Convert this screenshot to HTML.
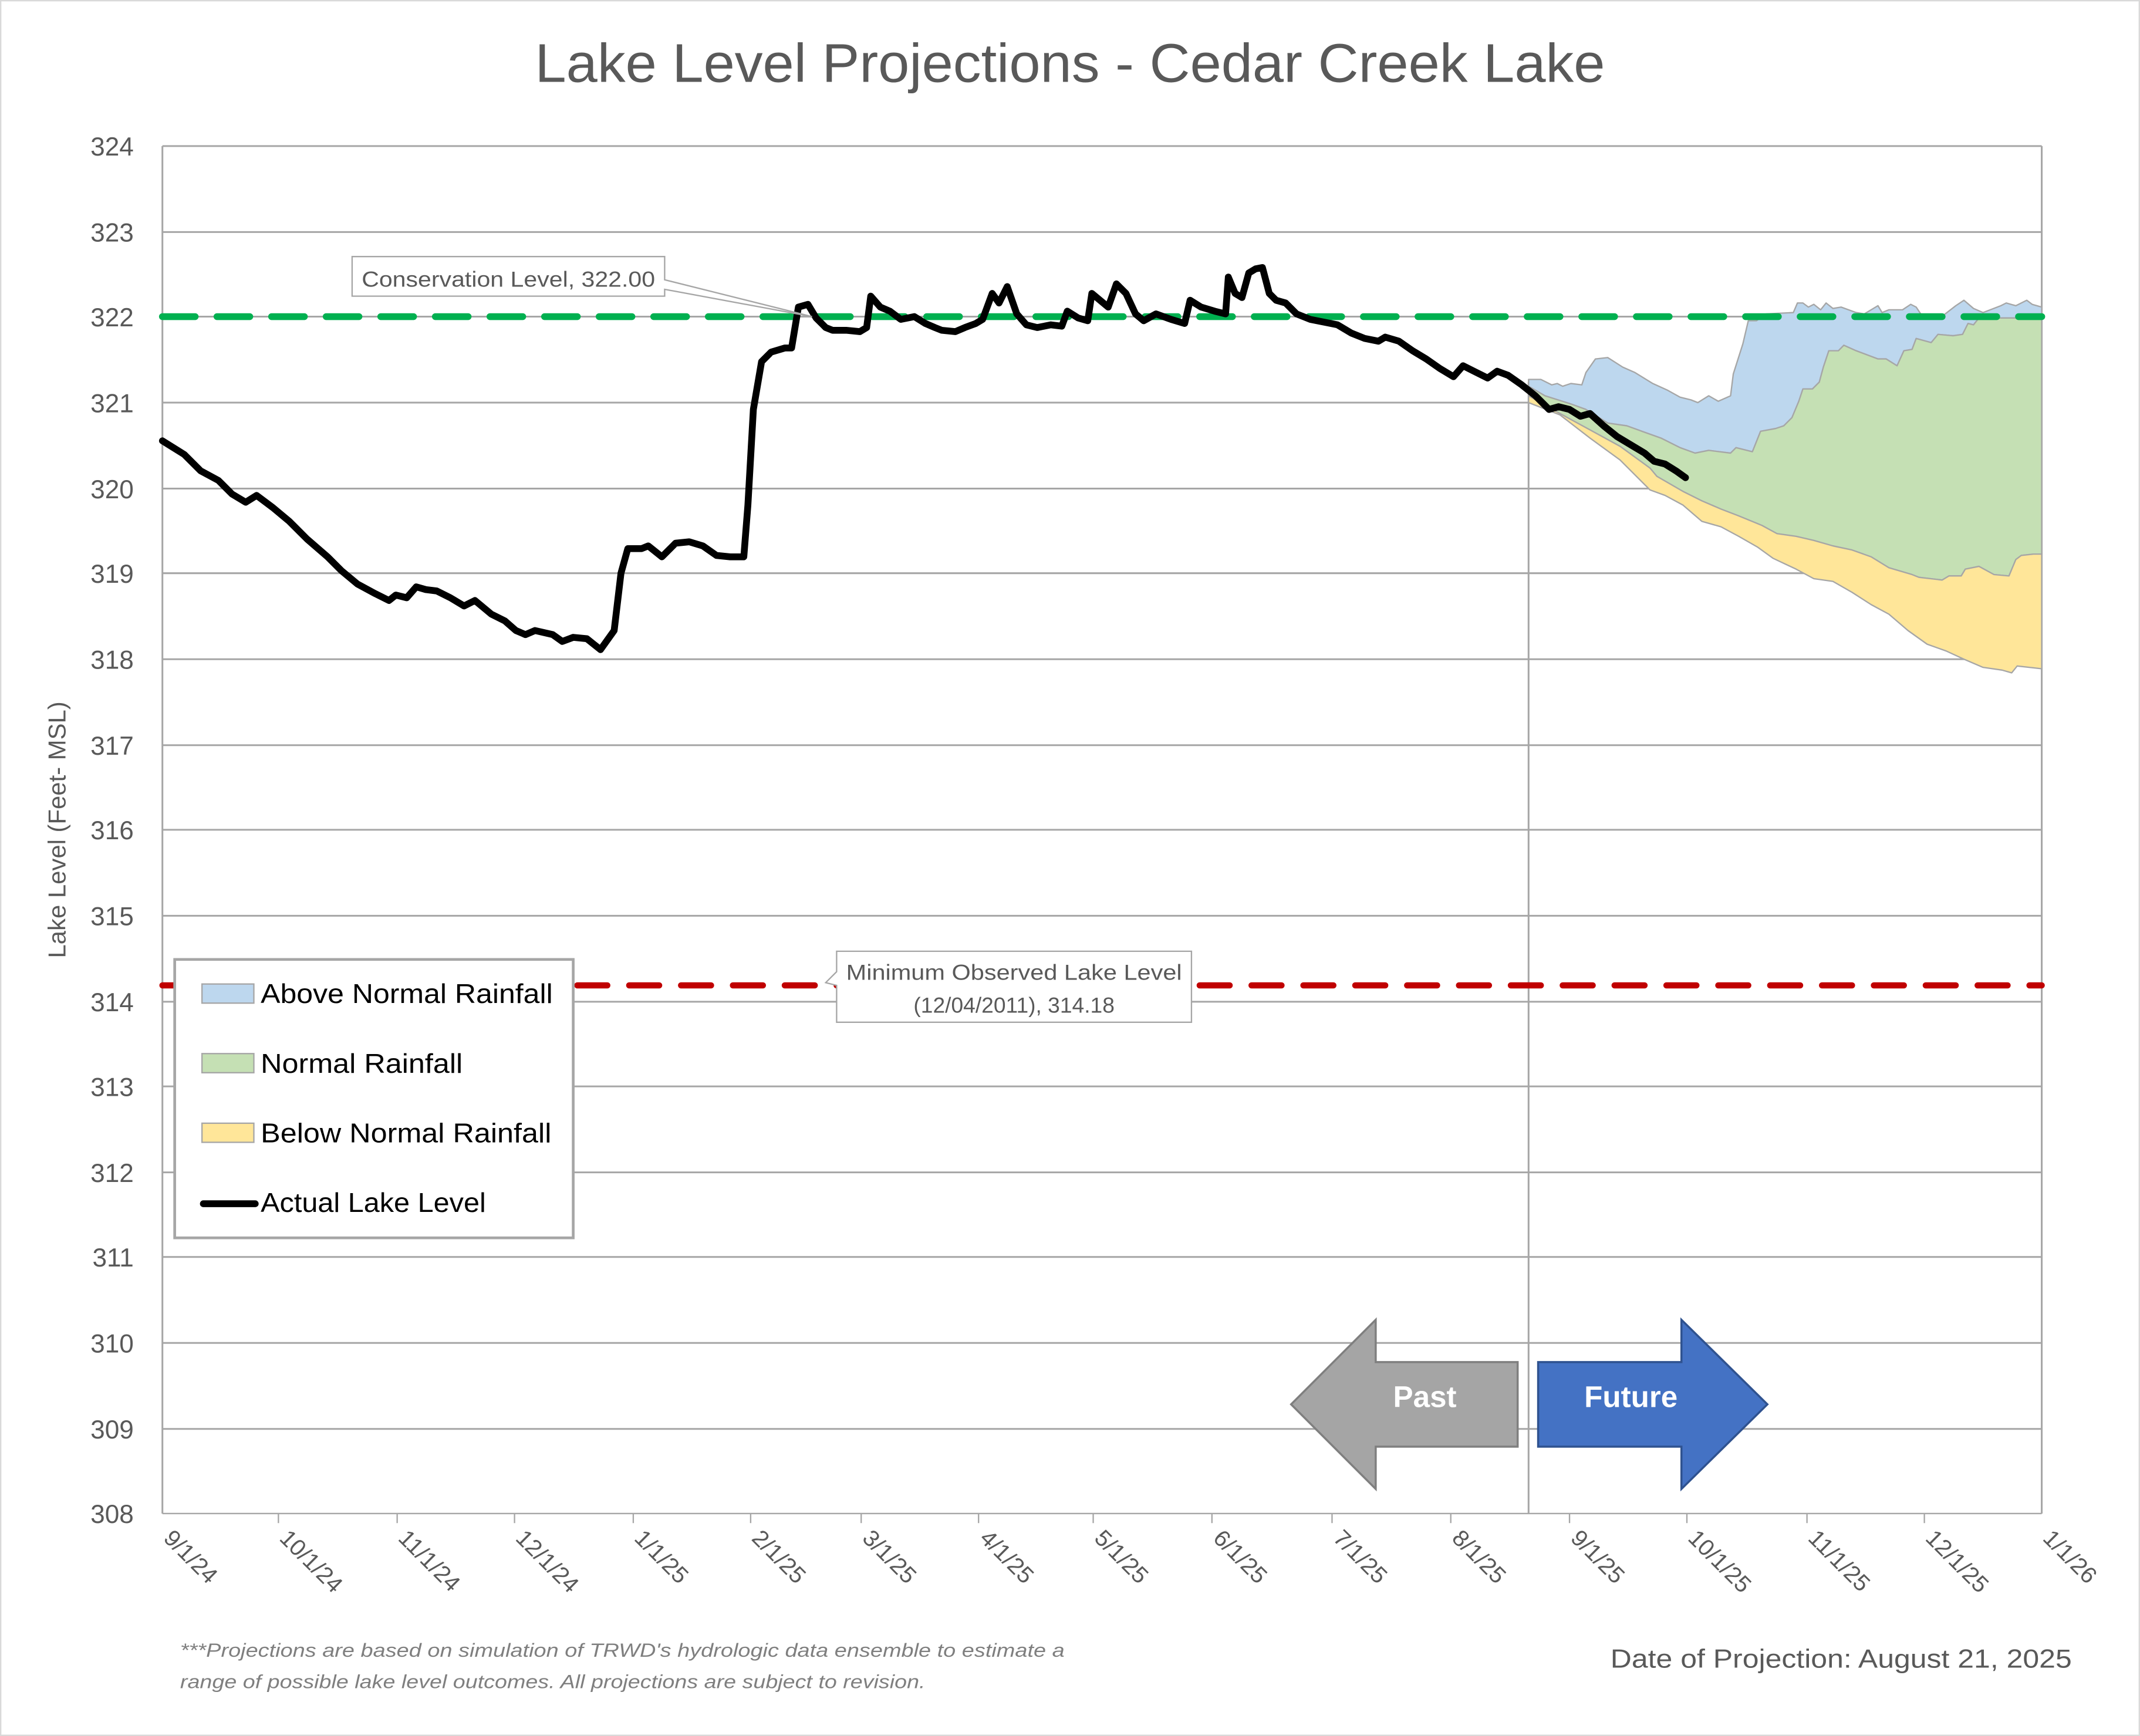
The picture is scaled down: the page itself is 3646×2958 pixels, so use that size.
<!DOCTYPE html>
<html><head><meta charset="utf-8"><style>html,body{margin:0;padding:0;background:#fff}svg{display:block}</style></head>
<body>
<svg width="3646" height="2958" viewBox="0 0 1568 1272" preserveAspectRatio="none" xmlns="http://www.w3.org/2000/svg" font-family="Liberation Sans, sans-serif">
<rect x="0.5" y="0.5" width="1567" height="1271" fill="#fff" stroke="#d9d9d9"/>
<text x="784" y="60" font-size="40" fill="#595959" text-anchor="middle" textLength="784" lengthAdjust="spacingAndGlyphs">Lake Level Projections - Cedar Creek Lake</text>
<g stroke="#a6a6a6" stroke-width="1.3">
<line x1="119" y1="107" x2="1496" y2="107"/><line x1="119" y1="170" x2="1496" y2="170"/><line x1="119" y1="232" x2="1496" y2="232"/><line x1="119" y1="295" x2="1496" y2="295"/><line x1="119" y1="358" x2="1496" y2="358"/><line x1="119" y1="420" x2="1496" y2="420"/><line x1="119" y1="483" x2="1496" y2="483"/><line x1="119" y1="546" x2="1496" y2="546"/><line x1="119" y1="608" x2="1496" y2="608"/><line x1="119" y1="671" x2="1496" y2="671"/><line x1="119" y1="734" x2="1496" y2="734"/><line x1="119" y1="796" x2="1496" y2="796"/><line x1="119" y1="859" x2="1496" y2="859"/><line x1="119" y1="921" x2="1496" y2="921"/><line x1="119" y1="984" x2="1496" y2="984"/><line x1="119" y1="1047" x2="1496" y2="1047"/>
<line x1="119" y1="107" x2="119" y2="1109"/><line x1="1496" y1="107" x2="1496" y2="1109"/>
<line x1="1120" y1="280" x2="1120" y2="1109"/>
</g>
<g stroke="#a6a6a6" stroke-width="1" stroke-linejoin="round">
<polygon fill="#bdd7ee" points="1120,278 1129,278 1137,282 1141,281 1145,283 1151,281 1159,282 1162,273 1169,263 1178,262 1189,269 1198,273 1211,281 1222,286 1231,291 1239,293 1244,295 1252,290 1259,294 1268,290 1270,274 1277,252 1281,235 1287,235 1294,230 1314,229 1317,222 1321,222 1325,225 1329,223 1334,227 1338,222 1343,226 1349,225 1360,229 1366,230 1376,224 1379,229 1384,227 1394,227 1400,223 1404,225 1408,231 1424,231 1433,224 1439,220 1446,226 1453,229 1466,224 1470,222 1477,224 1485,220 1489,223 1496,225 1496,233 1450,233 1446,238 1442,237 1438,245 1431,246 1420,245 1415,251 1404,248 1401,256 1395,257 1390,268 1382,263 1376,263 1360,257 1351,253 1347,257 1340,257 1336,269 1333,280 1328,285 1321,285 1318,294 1313,306 1307,312 1301,314 1290,316 1284,331 1272,328 1268,332 1252,330 1242,332 1231,328 1217,321 1203,316 1192,312 1178,310 1162,300 1151,296 1132,290 1120,283"/>
<polygon fill="#c5e0b4" points="1120,283 1132,290 1151,296 1162,300 1178,310 1192,312 1203,316 1217,321 1231,328 1242,332 1252,330 1268,332 1272,328 1284,331 1290,316 1301,314 1307,312 1313,306 1318,294 1321,285 1328,285 1333,280 1336,269 1340,257 1347,257 1351,253 1360,257 1376,263 1382,263 1390,268 1395,257 1401,256 1404,248 1415,251 1420,245 1431,246 1438,245 1442,237 1446,238 1450,233 1496,233 1496,406 1490,406 1481,407 1477,410 1472,422 1461,421 1450,415 1440,417 1437,422 1428,422 1423,425 1406,423 1401,421 1384,416 1371,408 1357,403 1343,400 1329,396 1316,393 1302,391 1291,385 1274,378 1261,373 1247,367 1233,360 1214,349 1209,343 1187,327 1165,315 1143,303 1120,290"/>
<polygon fill="#ffe699" points="1120,290 1143,303 1165,315 1187,327 1209,343 1214,349 1233,360 1247,367 1261,373 1274,378 1291,385 1302,391 1316,393 1329,396 1343,400 1357,403 1371,408 1384,416 1401,421 1406,423 1423,425 1428,422 1437,422 1440,417 1450,415 1461,421 1472,422 1477,410 1481,407 1490,406 1496,406 1496,490 1478,488 1474,493 1467,491 1453,489 1439,483 1426,477 1412,472 1398,462 1384,450 1371,443 1357,434 1343,426 1329,424 1316,417 1299,409 1288,401 1274,393 1261,386 1247,382 1233,370 1220,363 1209,359 1187,337 1165,321 1143,304 1120,295"/>
</g>
<line x1="119" y1="232" x2="1496" y2="232" stroke="#00b050" stroke-width="5" stroke-dasharray="24,16" stroke-linecap="round"/>
<line x1="119" y1="722" x2="1496" y2="722" stroke="#c00000" stroke-width="4.5" stroke-dasharray="22,16" stroke-linecap="round"/>
<polyline fill="none" stroke="#000" stroke-width="5" stroke-linejoin="round" stroke-linecap="round" points="119,323 135,333 147,345 160,352 170,362 180,368 188,363 200,372 212,382 225,395 240,408 250,418 262,428 275,435 285,440 290,436 298,438 305,430 312,432 320,433 330,438 340,444 348,440 360,450 370,455 378,462 385,465 392,462 405,465 412,470 420,467 430,468 440,476 450,462 455,420 460,402 470,402 475,400 485,408 495,398 505,397 515,400 525,407 535,408 545,408 548,370 552,300 558,265 565,258 575,255 580,255 585,225 592,223 598,233 605,240 610,242 620,242 630,243 635,240 638,217 645,225 652,228 660,234 670,232 678,237 685,240 690,242 700,243 707,240 715,237 720,234 727,215 732,222 738,210 745,230 752,238 760,240 770,238 778,239 782,228 790,233 797,235 800,215 806,220 812,225 818,208 825,215 832,230 838,235 847,230 858,234 868,237 872,220 880,225 890,228 898,230 900,203 905,215 910,218 915,200 920,197 925,196 930,215 935,220 942,222 950,230 960,234 970,236 980,238 990,244 1000,248 1010,250 1015,247 1025,250 1035,257 1045,263 1055,270 1065,276 1072,268 1080,272 1090,277 1097,272 1105,275 1115,282 1125,290 1135,300 1142,298 1150,300 1158,305 1165,303 1175,312 1185,320 1195,326 1205,332 1212,338 1220,340 1228,345 1235,350"/>
<g font-size="19" fill="#595959" text-anchor="end">
<text x="98" y="114">324</text><text x="98" y="177">323</text><text x="98" y="239">322</text><text x="98" y="302">321</text><text x="98" y="365">320</text><text x="98" y="427">319</text><text x="98" y="490">318</text><text x="98" y="553">317</text><text x="98" y="615">316</text><text x="98" y="678">315</text><text x="98" y="741">314</text><text x="98" y="803">313</text><text x="98" y="866">312</text><text x="98" y="928">311</text><text x="98" y="991">310</text><text x="98" y="1054">309</text><text x="98" y="1116">308</text>
</g>
<text transform="translate(48,608) rotate(-90)" font-size="18" fill="#595959" text-anchor="middle">Lake Level (Feet- MSL)</text>
<g font-size="17" fill="#595959">
<text transform="translate(119,1128) rotate(45)">9/1/24</text><text transform="translate(204,1128) rotate(45)">10/1/24</text><text transform="translate(291,1128) rotate(45)">11/1/24</text><text transform="translate(377,1128) rotate(45)">12/1/24</text><text transform="translate(464,1128) rotate(45)">1/1/25</text><text transform="translate(550,1128) rotate(45)">2/1/25</text><text transform="translate(631,1128) rotate(45)">3/1/25</text><text transform="translate(717,1128) rotate(45)">4/1/25</text><text transform="translate(801,1128) rotate(45)">5/1/25</text><text transform="translate(888,1128) rotate(45)">6/1/25</text><text transform="translate(976,1128) rotate(45)">7/1/25</text><text transform="translate(1063,1128) rotate(45)">8/1/25</text><text transform="translate(1150,1128) rotate(45)">9/1/25</text><text transform="translate(1236,1128) rotate(45)">10/1/25</text><text transform="translate(1324,1128) rotate(45)">11/1/25</text><text transform="translate(1410,1128) rotate(45)">12/1/25</text><text transform="translate(1496,1128) rotate(45)">1/1/26</text>
</g>
<g stroke="#a6a6a6" stroke-width="1">
<line x1="204" y1="1109" x2="204" y2="1116"/><line x1="291" y1="1109" x2="291" y2="1116"/><line x1="377" y1="1109" x2="377" y2="1116"/><line x1="464" y1="1109" x2="464" y2="1116"/><line x1="550" y1="1109" x2="550" y2="1116"/><line x1="631" y1="1109" x2="631" y2="1116"/><line x1="717" y1="1109" x2="717" y2="1116"/><line x1="801" y1="1109" x2="801" y2="1116"/><line x1="888" y1="1109" x2="888" y2="1116"/><line x1="976" y1="1109" x2="976" y2="1116"/><line x1="1063" y1="1109" x2="1063" y2="1116"/><line x1="1150" y1="1109" x2="1150" y2="1116"/><line x1="1236" y1="1109" x2="1236" y2="1116"/><line x1="1324" y1="1109" x2="1324" y2="1116"/><line x1="1410" y1="1109" x2="1410" y2="1116"/>
<line x1="119" y1="1109" x2="1496" y2="1109"/>
</g>
<path d="M258,188 H487 V205 L595,232 L487,212 V217 H258 Z" fill="#fff" stroke="#a6a6a6"/>
<text x="265" y="210" font-size="16" fill="#595959" textLength="215" lengthAdjust="spacingAndGlyphs">Conservation Level, 322.00</text>
<path d="M613,697 H873 V749 H613 V722 L605,720 L613,712 Z" fill="#fff" stroke="#a6a6a6"/>
<text x="743" y="718" font-size="16" fill="#595959" text-anchor="middle" textLength="246" lengthAdjust="spacingAndGlyphs">Minimum Observed Lake Level</text>
<text x="743" y="742" font-size="16" fill="#595959" text-anchor="middle">(12/04/2011), 314.18</text>
<rect x="128" y="703" width="292" height="204" fill="#fff" stroke="#a6a6a6" stroke-width="2"/>
<rect x="148" y="721" width="38" height="14" fill="#bdd7ee" stroke="#a6a6a6"/>
<rect x="148" y="772" width="38" height="14" fill="#c5e0b4" stroke="#a6a6a6"/>
<rect x="148" y="823" width="38" height="14" fill="#ffe699" stroke="#a6a6a6"/>
<line x1="149" y1="882" x2="187" y2="882" stroke="#000" stroke-width="5" stroke-linecap="round"/>
<g font-size="20" fill="#000">
<text x="191" y="735" textLength="214" lengthAdjust="spacingAndGlyphs">Above Normal Rainfall</text><text x="191" y="786" textLength="148" lengthAdjust="spacingAndGlyphs">Normal Rainfall</text><text x="191" y="837" textLength="213" lengthAdjust="spacingAndGlyphs">Below Normal Rainfall</text><text x="191" y="888" textLength="165" lengthAdjust="spacingAndGlyphs">Actual Lake Level</text>
</g>
<polygon points="946,1029 1008,967 1008,998 1112,998 1112,1060 1008,1060 1008,1091" fill="#a5a5a5" stroke="#7f7f7f" stroke-width="1.5"/>
<text x="1044" y="1031" font-size="22" font-weight="bold" fill="#fff" text-anchor="middle">Past</text>
<polygon points="1295,1029 1232,967 1232,998 1127,998 1127,1060 1232,1060 1232,1091" fill="#4472c4" stroke="#2f528f" stroke-width="1.5"/>
<text x="1195" y="1031" font-size="22" font-weight="bold" fill="#fff" text-anchor="middle">Future</text>
<text x="132" y="1214" font-size="14" font-style="italic" fill="#7f7f7f" textLength="648" lengthAdjust="spacingAndGlyphs">***Projections are based on simulation of TRWD's hydrologic data ensemble to estimate a</text>
<text x="132" y="1237" font-size="14" font-style="italic" fill="#7f7f7f" textLength="546" lengthAdjust="spacingAndGlyphs">range of possible lake level outcomes.  All projections are subject to revision.</text>
<text x="1518" y="1222" font-size="19" fill="#595959" text-anchor="end" textLength="338" lengthAdjust="spacingAndGlyphs">Date of Projection: August 21, 2025</text>
</svg>
</body></html>
